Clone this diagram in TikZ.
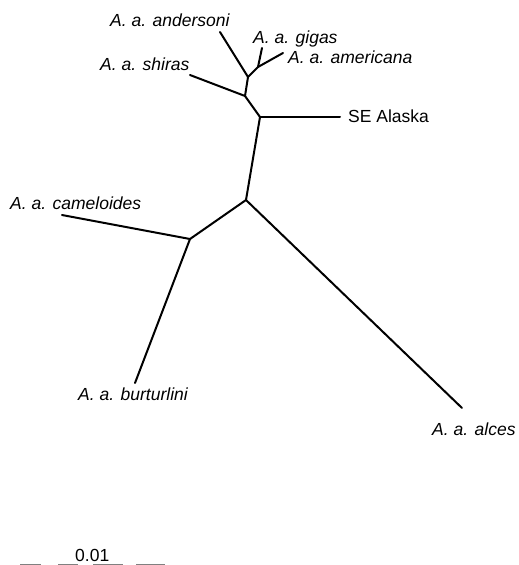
\documentclass[tikz,border=0pt]{standalone}
\usepackage{fontspec}
\setmainfont{Liberation Sans}
\begin{document}
\begin{tikzpicture}[x=1pt,y=-1pt,
  branch/.style={line width=2pt,line cap=round,line join=round},
  taxon/.style={font=\fontsize{17.5}{20}\selectfont\itshape,inner sep=0pt,anchor=base west},
  plain/.style={font=\fontsize{17.5}{20}\selectfont,inner sep=0pt,anchor=base west}]
\useasboundingbox (0,0) rectangle (519,565);
% internal nodes
\coordinate (root) at (246,200);
\coordinate (cam) at (190,239);
\coordinate (ak) at (260,117);
\coordinate (sh) at (245,96);
\coordinate (an) at (248,77);
\coordinate (gi) at (258,67);
% tips
\coordinate (tAnd) at (220,32);
\coordinate (tGig) at (262,48);
\coordinate (tAme) at (283,53);
\coordinate (tShi) at (190,75);
\coordinate (tAk) at (340,117);
\coordinate (tCam) at (62,215);
\coordinate (tBur) at (135,383);
\coordinate (tAlc) at (462,408);
\coordinate (sbL) at (20,564);
\coordinate (sbR) at (167,564);
% branches
\draw[branch] (root) -- (cam);
\draw[branch] (cam) -- (tCam);
\draw[branch] (cam) -- (tBur);
\draw[branch] (root) -- (tAlc);
\draw[branch] (root) -- (ak);
\draw[branch] (ak) -- (tAk);
\draw[branch] (ak) -- (sh);
\draw[branch] (sh) -- (tShi);
\draw[branch] (sh) -- (an);
\draw[branch] (an) -- (tAnd);
\draw[branch] (an) -- (gi);
\draw[branch] (gi) -- (tGig);
\draw[branch] (gi) -- (tAme);
% labels
\node[taxon] (lAnd) at (110,26) {A. a. andersoni};
\node[taxon] (lGig) at (253,43) {A. a. gigas};
\node[taxon] (lAme) at (288,63) {A. a. americana};
\node[taxon] (lShi) at (100,70) {A. a. shiras};
\node[plain] (lAk) at (348,122) {SE Alaska};
\node[taxon] (lCam) at (10,209) {A. a. cameloides};
\node[taxon] (lBur) at (78,400) {A. a. burturlini};
\node[taxon] (lAlc) at (432,435) {A. a. alces};
% scale bar
\node[plain] (sbLab) at (75,561) {0.01};
\draw[line width=0.8pt,gray,dash pattern=on 21pt off 17pt on 20pt off 15pt on 30pt off 13pt on 29pt off 30pt] (sbL) -- (sbR);
\end{tikzpicture}
\end{document}
